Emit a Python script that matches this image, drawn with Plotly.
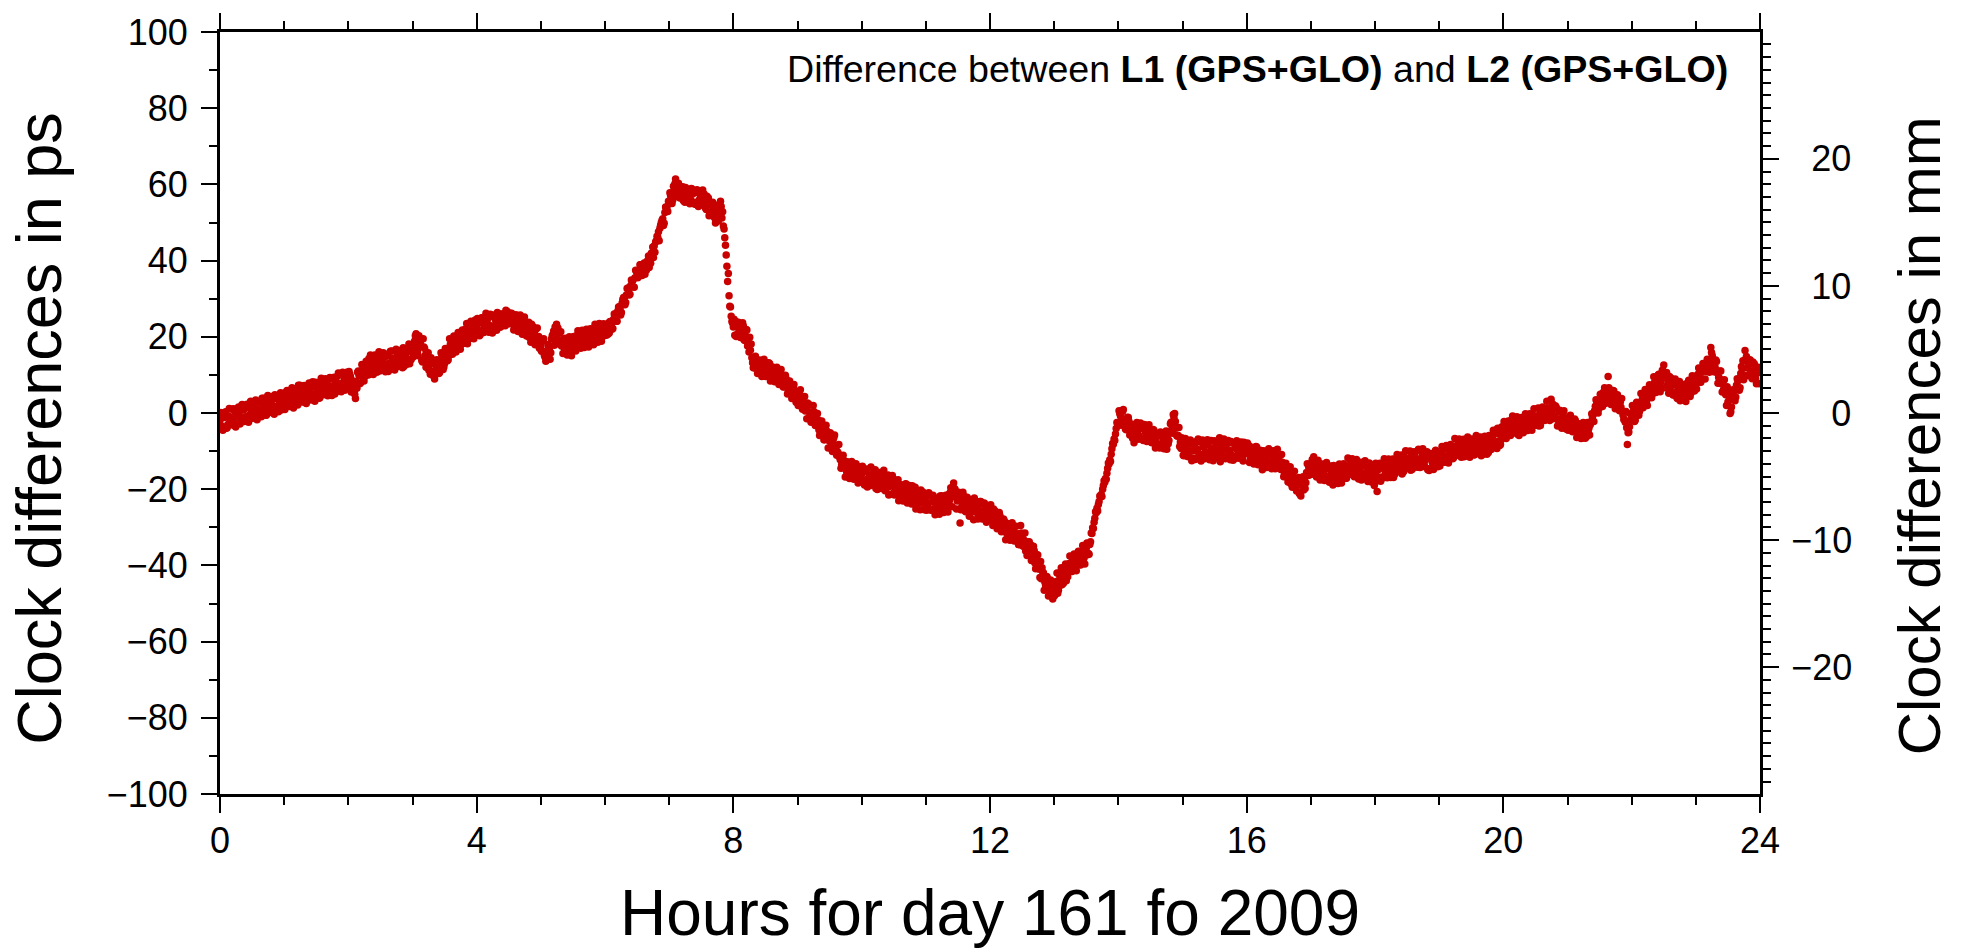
import plotly.graph_objects as go

# Clock difference L1 - L2 (ps). Each hour holds 90 forty-second epochs, stored as
# three interleaved rows of 30 ("a", "c", "b" in time order within each 2-minute slot).
ps_h00a = [-2.0, -3.5, -1.2, -4.0, -0.8, -2.6, -1.5, 0.2, -2.8, -0.5, -1.9, 0.8, -1.0, 1.5, -0.3,
           0.6, 2.2, -0.2, 1.0, 2.8, 0.4, 1.9, 3.3, 1.1, 2.5, 0.9, 3.8, 2.0, 4.2, 2.6]
ps_h00b = [-0.5, -4.2, 0.3, -3.0, -1.9, 1.0, -3.3, -0.9, 1.6, -2.4, 0.9, -1.6, 2.3, -0.7, 2.6,
           -1.2, 3.4, 0.2, -0.4, 3.9, 1.5, -0.6, 4.4, 2.2, 0.3, 4.8, 1.2, 3.6, 0.8, 5.1]
ps_h00c = [0.1, -4.5, 0.1, -3.9, 1.2, -3.1, 1.1, -3.7, 1.0, -2.9, 2.2, -2.2, 2.1, -2.4, 3.1,
           -1.4, 3.0, -1.8, 2.8, -1.0, 3.9, -0.5, 4.6, 0.1, 4.3, -0.3, 4.4, 0.3, 5.3, 1.0]
ps_h01a = [3.0, 4.6, 2.4, 5.1, 3.7, 6.0, 4.2, 2.9, 5.5, 4.8, 6.3, 3.9, 5.9, 7.2, 5.0,
           6.6, 4.4, 7.5, 6.1, 5.3, 8.0, 6.4, 7.1, 5.6, 8.3, 6.8, 7.7, 5.9, 8.6, 7.0]
ps_h01b = [5.4, 1.9, 4.1, 6.6, 2.6, 5.0, 7.3, 3.4, 6.7, 2.8, 5.2, 7.9, 4.5, 3.6, 8.1,
           6.0, 4.0, 8.9, 5.4, 7.2, 4.8, 9.0, 6.9, 5.0, 9.5, 7.4, 5.6, 9.8, 6.3, 8.9]
ps_h01c = [0.9, 5.9, 1.7, 6.0, 1.3, 6.0, 2.1, 7.3, 2.9, 7.2, 2.5, 7.3, 3.4, 8.2, 3.1,
           7.9, 3.9, 9.1, 4.8, 9.0, 4.5, 9.3, 4.6, 9.4, 5.6, 10.5, 6.2, 10.7, 6.0, 10.7]
ps_h02a = [8.0, 9.5, 7.2, 4.9, 6.5, 9.8, 10.6, 8.9, 11.4, 12.8, 10.9, 13.5, 11.8, 12.6, 14.2,
           11.5, 13.9, 12.4, 15.0, 13.1, 11.7, 14.4, 12.9, 15.3, 13.6, 14.8, 12.2, 15.7, 14.1, 16.5]
ps_h02b = [10.2, 6.4, 5.8, 8.2, 11.0, 7.9, 12.5, 9.6, 10.2, 14.3, 12.0, 10.1, 14.8, 13.0, 11.0,
           15.6, 12.8, 14.9, 10.9, 16.2, 13.9, 11.3, 16.0, 14.2, 12.5, 17.1, 13.4, 16.4, 12.9, 17.8]
ps_h02c = [10.9, 5.5, 8.4, 3.8, 10.7, 7.7, 12.7, 8.4, 13.6, 10.0, 15.2, 10.9, 15.2, 10.7, 16.1,
           11.5, 15.8, 10.8, 15.4, 11.5, 16.3, 11.7, 16.7, 12.2, 16.4, 11.9, 16.7, 12.8, 18.1, 14.0]
ps_h03a = [15.8, 18.9, 16.6, 20.3, 17.4, 19.5, 15.2, 14.0, 12.6, 13.8, 10.9, 12.2, 11.4, 13.5, 14.7,
           13.0, 16.2, 15.1, 17.3, 16.0, 18.4, 17.6, 19.8, 18.7, 20.6, 19.4, 21.5, 20.2, 22.4, 21.3]
ps_h03b = [17.5, 20.8, 15.0, 18.2, 13.4, 16.9, 13.1, 11.2, 14.5, 9.8, 13.6, 12.8, 10.6, 15.2, 12.1,
           16.4, 14.0, 18.0, 15.4, 19.1, 16.8, 20.6, 17.9, 19.0, 22.0, 18.2, 20.9, 23.1, 19.5, 22.8]
ps_h03c = [14.7, 20.3, 16.1, 19.7, 13.8, 17.3, 12.0, 15.8, 10.2, 13.8, 8.9, 14.0, 10.4, 15.8, 11.4,
           16.9, 13.7, 19.5, 15.6, 20.2, 16.0, 21.1, 16.7, 21.8, 18.3, 23.5, 19.4, 24.1, 19.6, 24.4]
ps_h04a = [22.0, 24.1, 21.6, 23.5, 22.8, 24.6, 23.0, 21.9, 25.2, 23.7, 24.8, 22.5, 25.5, 24.0, 26.3,
           25.0, 23.8, 24.4, 22.6, 23.9, 21.8, 23.2, 22.1, 20.7, 22.4, 21.0, 19.6, 21.3, 18.8, 20.1]
ps_h04b = [23.4, 20.6, 25.0, 22.3, 24.0, 21.2, 25.8, 22.4, 24.6, 26.4, 23.1, 26.0, 24.2, 27.0, 23.5,
           26.2, 24.9, 22.3, 25.6, 21.9, 24.5, 20.8, 23.6, 22.9, 19.8, 23.3, 20.5, 22.0, 17.9, 19.2]
ps_h04c = [24.8, 20.3, 25.0, 21.1, 26.2, 21.8, 25.9, 21.0, 25.7, 21.7, 26.0, 22.7, 26.0, 22.9, 26.6,
           23.4, 26.2, 21.8, 25.8, 21.4, 25.7, 20.7, 25.2, 20.2, 23.8, 18.6, 22.7, 17.9, 22.3, 17.0]
ps_h05a = [17.5, 16.2, 14.6, 15.3, 16.8, 19.4, 21.5, 20.2, 22.3, 19.0, 18.2, 17.0, 16.0, 18.4, 17.3,
           19.1, 17.8, 19.9, 18.6, 20.4, 19.2, 21.0, 19.6, 18.5, 20.8, 19.7, 21.6, 20.3, 22.2, 21.0]
ps_h05b = [18.8, 15.1, 13.9, 17.2, 15.8, 20.6, 22.6, 18.8, 20.9, 17.6, 19.5, 15.7, 17.2, 15.9, 18.9,
           16.5, 20.3, 18.1, 17.0, 21.2, 18.0, 19.9, 22.0, 20.5, 17.9, 21.8, 18.6, 22.6, 19.9, 20.4]
ps_h05c = [16.2, 19.5, 13.6, 18.0, 14.1, 20.3, 17.8, 23.3, 18.2, 21.3, 15.6, 19.6, 15.2, 20.0, 15.0,
           20.1, 16.3, 21.6, 17.4, 21.7, 17.2, 22.0, 17.3, 22.1, 18.3, 23.3, 19.0, 23.5, 18.8, 23.4]
ps_h06a = [21.5, 22.8, 21.0, 23.4, 24.6, 25.2, 26.8, 27.5, 28.9, 30.2, 31.0, 32.5, 33.4, 34.8, 35.5,
           36.9, 37.4, 36.5, 38.6, 37.8, 39.5, 40.6, 42.0, 43.8, 45.2, 47.6, 49.3, 51.0, 52.6, 54.1]
ps_h06b = [20.4, 23.6, 22.5, 22.2, 26.0, 24.1, 27.9, 26.4, 30.3, 29.0, 32.8, 31.2, 34.6, 33.0, 37.2,
           35.8, 38.9, 37.6, 36.4, 39.8, 38.2, 41.9, 40.8, 44.9, 46.1, 48.5, 50.6, 49.8, 53.8, 55.6]
ps_h06c = [23.0, 20.7, 24.0, 22.0, 26.0, 24.1, 27.8, 25.7, 29.8, 28.4, 32.7, 31.0, 34.9, 33.1, 37.5,
           35.5, 38.9, 36.1, 39.4, 37.5, 41.2, 39.3, 43.6, 42.2, 46.4, 45.2, 50.0, 49.2, 54.1, 52.9]
ps_h07a = [55.3, 57.8, 59.5, 61.4, 58.2, 56.4, 58.9, 57.1, 55.6, 58.3, 56.0, 57.5, 54.8, 58.6, 55.9,
           57.2, 56.1, 53.8, 55.4, 52.3, 54.6, 51.5, 53.2, 50.4, 55.6, 52.8, 46.0, 38.5, 30.8, 25.4]
ps_h07b = [57.0, 55.9, 60.2, 57.4, 59.8, 57.9, 55.7, 59.2, 57.0, 54.9, 58.8, 55.3, 57.9, 54.2, 56.8,
           58.5, 54.6, 56.9, 51.8, 55.0, 53.4, 49.9, 52.0, 54.5, 51.2, 48.3, 41.5, 36.6, 27.8, 23.6]
ps_h07c = [57.8, 55.0, 59.5, 56.8, 60.3, 56.6, 59.4, 55.3, 58.6, 55.2, 58.9, 55.2, 58.1, 54.5, 58.3,
           54.6, 57.5, 53.4, 56.4, 52.5, 55.3, 51.2, 54.5, 51.0, 54.2, 49.1, 44.0, 34.5, 28.0, 24.0]
ps_h08a = [22.6, 24.0, 20.8, 23.3, 21.5, 19.2, 21.9, 18.4, 16.5, 13.2, 11.8, 13.0, 11.4, 12.6, 10.9,
           9.6, 11.5, 12.9, 10.2, 8.7, 10.6, 9.1, 7.8, 9.5, 7.2, 8.4, 6.1, 5.3, 6.6, 4.0]
ps_h08b = [20.4, 23.8, 22.0, 19.8, 22.9, 20.3, 17.6, 19.9, 14.5, 12.4, 14.0, 10.6, 12.9, 11.0, 12.2,
           10.3, 13.1, 11.0, 9.4, 11.8, 8.5, 10.1, 8.8, 6.9, 9.0, 5.6, 7.4, 4.9, 5.8, 3.1]
ps_h08c = [24.6, 20.1, 23.8, 19.8, 23.7, 19.0, 21.8, 16.0, 18.1, 11.9, 14.9, 10.4, 13.9, 9.6, 14.1,
           9.7, 13.2, 8.4, 12.1, 8.2, 12.0, 7.5, 11.4, 6.8, 9.9, 5.0, 8.4, 3.8, 7.5, 2.8]
ps_h09a = [4.6, 3.2, 4.4, 2.0, 0.8, 1.9, -0.6, -1.5, -0.2, -3.0, -4.4, -3.2, -5.6, -6.8, -5.0,
           -7.4, -8.2, -6.4, -9.1, -10.5, -12.3, -14.0, -13.1, -15.5, -14.3, -16.2, -15.0, -13.8, -16.6, -15.4]
ps_h09b = [5.6, 2.4, 3.1, 0.5, 2.6, 0.1, -2.1, 0.4, -2.4, -1.8, -5.1, -4.1, -7.0, -4.7, -6.2,
           -9.0, -7.0, -8.6, -10.2, -11.6, -13.5, -12.4, -14.8, -16.8, -13.2, -17.0, -14.1, -16.0, -14.6, -17.4]
ps_h09c = [2.0, 6.1, 1.0, 4.3, -1.5, 2.3, -2.4, 2.0, -3.3, -0.1, -5.9, -2.1, -7.0, -3.2, -9.2,
           -5.2, -10.1, -5.8, -11.1, -8.3, -14.5, -11.1, -16.8, -12.8, -17.2, -12.7, -17.4, -13.3, -18.4, -14.1]
ps_h10a = [-16.0, -18.2, -15.3, -17.1, -19.0, -16.4, -18.6, -17.3, -15.9, -18.9, -17.8, -20.4, -16.9, -19.3, -18.1,
           -21.0, -19.6, -17.5, -20.6, -22.1, -19.8, -21.4, -20.0, -22.6, -21.2, -19.5, -22.9, -21.8, -23.5, -20.9]
ps_h10b = [-17.5, -15.0, -19.4, -16.3, -17.9, -15.4, -19.8, -16.8, -18.4, -16.2, -19.5, -18.0, -21.5, -18.6, -17.2,
           -20.1, -18.3, -21.8, -19.0, -20.9, -18.6, -23.0, -20.7, -19.1, -22.3, -24.0, -21.0, -20.2, -22.4, -24.4]
ps_h10c = [-14.0, -18.9, -14.7, -18.9, -14.2, -18.8, -14.9, -20.1, -15.6, -19.8, -15.0, -20.0, -16.3, -21.3, -16.4,
           -21.5, -17.7, -23.0, -18.8, -23.1, -18.7, -23.6, -19.0, -23.9, -20.2, -25.2, -20.9, -25.4, -20.7, -25.4]
ps_h11a = [-22.4, -24.0, -21.6, -23.3, -25.1, -22.7, -24.6, -23.5, -25.8, -22.9, -24.2, -23.0, -20.5, -18.4, -21.7,
           -22.4, -28.9, -23.6, -21.9, -24.5, -22.8, -25.3, -23.7, -26.0, -24.4, -25.6, -23.9, -26.5, -25.0, -27.2]
ps_h11b = [-23.8, -21.3, -25.3, -22.2, -23.9, -26.0, -21.8, -25.0, -22.6, -24.6, -21.4, -19.6, -22.0, -20.0, -23.1,
           -21.0, -24.8, -22.1, -25.9, -23.3, -26.4, -24.0, -22.3, -25.2, -27.0, -23.2, -25.9, -24.1, -27.4, -26.1]
ps_h11c = [-25.5, -20.9, -25.5, -21.6, -26.7, -22.4, -26.6, -21.7, -26.1, -21.6, -26.0, -20.9, -24.6, -19.8, -25.2,
           -20.8, -25.4, -20.8, -25.7, -22.1, -27.1, -22.8, -28.0, -23.6, -27.8, -23.2, -27.8, -23.6, -28.7, -24.3]
ps_h12a = [-26.5, -28.0, -25.8, -27.9, -29.6, -28.2, -30.9, -29.4, -31.8, -30.2, -32.5, -31.0, -33.4, -31.7, -34.0,
           -32.6, -35.1, -33.8, -36.0, -34.6, -37.5, -39.4, -37.2, -41.0, -43.5, -42.0, -45.3, -44.1, -47.6, -46.0]
ps_h12b = [-27.4, -25.2, -26.9, -29.3, -27.0, -30.0, -28.3, -31.1, -29.9, -32.4, -29.6, -33.0, -32.0, -34.6, -31.5,
           -33.2, -36.2, -34.2, -35.0, -37.8, -36.1, -38.6, -40.2, -39.0, -41.8, -44.4, -43.0, -46.0, -45.2, -47.2]
ps_h12c = [-24.1, -29.5, -25.7, -30.4, -26.1, -31.2, -27.8, -33.3, -29.0, -33.4, -28.8, -33.6, -29.7, -34.5, -29.5,
           -34.9, -31.5, -37.4, -33.8, -38.7, -35.0, -40.9, -37.3, -43.2, -40.6, -46.5, -42.9, -48.0, -43.8, -48.8]
ps_h13a = [-48.0, -44.2, -46.5, -41.8, -43.9, -40.6, -42.8, -39.5, -41.4, -38.7, -40.2, -37.6, -39.3, -36.4, -38.0,
           -35.5, -36.9, -33.8, -30.1, -27.6, -25.0, -23.2, -21.4, -19.0, -17.2, -14.5, -12.3, -9.4, -6.8, -4.1]
ps_h13b = [-45.6, -47.3, -43.0, -45.1, -42.2, -44.0, -40.0, -41.5, -38.6, -40.7, -38.2, -39.8, -36.6, -38.6, -35.2,
           -37.2, -34.5, -31.6, -28.7, -26.2, -24.0, -22.0, -20.0, -18.2, -15.8, -13.4, -10.8, -8.2, -5.5, -2.8]
ps_h13c = [-47.8, -42.0, -45.5, -40.6, -44.7, -39.6, -43.0, -37.5, -41.6, -37.0, -41.4, -36.3, -39.9, -34.8, -39.6,
           -34.1, -37.1, -31.5, -30.3, -25.9, -25.7, -21.8, -21.9, -17.8, -17.4, -13.1, -12.7, -8.0, -7.2, -2.5]
ps_h14a = [-2.5, -0.8, 0.4, -1.9, -3.6, -2.2, -4.8, -5.9, -3.4, -5.2, -6.5, -4.1, -3.0, -5.7, -4.6,
           -6.8, -5.3, -7.4, -6.1, -8.2, -5.7, -7.0, -8.9, -6.3, -4.8, -3.2, -1.2, -4.0, -5.9, -7.6]
ps_h14b = [-0.1, -1.6, -3.0, -4.4, -1.2, -3.9, -6.6, -4.4, -2.5, -6.0, -3.7, -7.2, -5.0, -3.4, -6.2,
           -7.8, -4.6, -6.6, -8.8, -5.0, -7.9, -6.0, -9.5, -7.2, -2.4, -0.4, -2.2, -6.1, -8.8, -6.5]
ps_h14c = [0.6, -3.2, 0.9, -4.2, -1.1, -5.8, -3.0, -7.8, -3.4, -6.9, -2.6, -6.9, -3.1, -7.5, -3.1,
           -7.7, -4.3, -9.2, -5.4, -9.2, -5.2, -9.4, -4.7, -8.1, -2.8, -5.3, -0.1, -6.0, -3.8, -9.3]
ps_h15a = [-8.8, -10.6, -9.2, -11.5, -8.1, -10.0, -12.2, -9.5, -7.6, -10.9, -9.0, -11.8, -8.4, -10.3, -9.7,
           -7.3, -11.2, -8.9, -10.5, -9.1, -12.0, -8.0, -9.8, -11.0, -7.9, -9.4, -10.8, -8.6, -11.4, -9.9]
ps_h15b = [-11.2, -8.0, -9.8, -7.1, -11.9, -9.0, -7.4, -10.7, -12.6, -8.3, -10.2, -7.0, -12.3, -9.4, -11.0,
           -8.5, -10.1, -12.8, -7.8, -11.6, -9.6, -10.9, -7.5, -12.4, -9.1, -8.2, -11.7, -9.9, -7.7, -10.6]
ps_h15c = [-11.1, -6.7, -11.4, -7.5, -12.5, -8.0, -11.9, -6.8, -11.3, -7.1, -12.0, -7.5, -11.7, -7.2, -12.5,
           -7.7, -11.7, -6.5, -10.9, -6.8, -11.6, -7.2, -12.3, -7.9, -12.0, -7.3, -11.9, -7.6, -12.6, -8.2]
ps_h16a = [-10.2, -8.5, -11.3, -9.6, -12.0, -10.8, -13.1, -11.7, -9.9, -12.5, -14.0, -11.1, -12.8, -10.5, -13.6,
           -12.1, -14.8, -13.4, -15.6, -17.0, -15.9, -18.2, -17.1, -19.6, -18.5, -20.8, -19.0, -17.4, -15.6, -14.2]
ps_h16b = [-9.0, -11.8, -10.4, -12.7, -8.9, -11.6, -10.0, -13.9, -12.4, -10.7, -12.9, -14.6, -11.7, -13.8, -11.4,
           -14.2, -12.9, -16.0, -14.1, -16.4, -18.6, -16.6, -19.0, -18.0, -21.2, -17.6, -20.2, -18.3, -16.4, -13.4]
ps_h16c = [-7.9, -13.0, -9.0, -13.4, -8.8, -13.6, -9.8, -14.9, -10.3, -14.3, -9.4, -14.0, -9.9, -14.6, -9.5,
           -14.5, -10.9, -16.7, -13.2, -18.1, -14.1, -19.5, -15.3, -20.5, -16.9, -21.8, -16.7, -19.8, -13.3, -16.3]
ps_h17a = [-13.5, -15.2, -12.6, -14.8, -16.1, -13.9, -15.7, -17.4, -14.6, -16.9, -15.3, -17.8, -16.2, -14.0, -17.0,
           -15.5, -13.8, -16.3, -14.4, -12.9, -15.1, -13.6, -16.0, -14.7, -17.2, -15.8, -14.1, -16.5, -15.0, -17.5]
ps_h17b = [-12.2, -14.3, -16.8, -13.1, -15.4, -17.0, -14.3, -16.6, -18.2, -15.9, -13.8, -16.6, -18.5, -15.2, -16.4,
           -14.2, -17.1, -15.0, -12.7, -14.5, -16.6, -12.9, -14.9, -17.6, -13.8, -16.3, -18.0, -14.8, -16.0, -19.0]
ps_h17c = [-16.1, -11.5, -16.2, -12.4, -17.6, -13.4, -17.7, -13.0, -17.8, -13.9, -18.9, -14.3, -18.3, -13.4, -18.4,
           -13.3, -17.1, -11.8, -16.1, -12.0, -16.7, -12.2, -17.3, -12.9, -17.1, -12.5, -17.2, -13.1, -18.1, -13.7]
ps_h18a = [-15.4, -20.6, -14.2, -16.8, -13.6, -15.9, -14.5, -12.8, -16.1, -13.9, -15.2, -12.4, -14.7, -13.1, -11.6,
           -14.0, -12.2, -10.9, -13.5, -11.8, -12.9, -14.3, -11.3, -13.0, -12.1, -14.6, -11.5, -13.3, -12.6, -10.8]
ps_h18b = [-16.5, -14.8, -17.9, -13.2, -15.1, -17.0, -13.6, -14.9, -16.9, -12.3, -14.6, -13.4, -16.0, -11.9, -13.6,
           -12.6, -15.0, -11.8, -10.4, -14.2, -12.4, -10.1, -13.8, -12.0, -14.9, -10.9, -12.8, -14.0, -11.4, -12.2]
ps_h18c = [-13.2, -17.8, -13.2, -17.1, -12.0, -16.3, -12.1, -16.9, -12.1, -16.0, -10.9, -15.3, -11.0, -15.4, -9.9,
           -14.4, -10.0, -14.8, -10.2, -14.2, -9.5, -14.2, -9.4, -14.1, -10.2, -15.1, -10.6, -14.8, -9.8, -14.1]
ps_h19a = [-12.0, -10.4, -11.6, -9.3, -12.4, -10.1, -8.7, -11.0, -9.6, -7.9, -10.2, -8.4, -9.9, -11.3, -8.1,
           -9.5, -7.2, -10.0, -8.8, -6.9, -9.2, -7.7, -8.5, -10.4, -7.4, -6.2, -8.0, -9.3, -5.6, -7.0]
ps_h19b = [-13.1, -11.0, -9.4, -12.9, -10.8, -8.9, -11.8, -9.9, -8.3, -10.8, -9.0, -11.5, -8.8, -7.4, -10.6,
           -8.9, -10.9, -7.8, -9.6, -11.2, -8.0, -6.8, -9.9, -7.9, -6.9, -9.0, -7.5, -5.1, -8.3, -6.0]
ps_h19c = [-13.9, -8.8, -12.9, -8.5, -13.1, -8.3, -12.0, -6.7, -11.1, -6.8, -11.6, -6.9, -10.9, -6.3, -11.6,
           -6.8, -11.0, -5.9, -10.4, -6.3, -10.9, -6.1, -10.8, -5.9, -9.6, -4.5, -8.7, -4.0, -8.5, -3.6]
ps_h20a = [-4.8, -3.2, -5.5, -2.9, -4.1, -2.0, -3.6, -5.0, -1.8, -3.0, -2.4, -4.2, -1.5, -2.7, -0.6,
           -3.1, -1.2, -0.2, -2.0, 0.5, -1.0, 1.3, 0.2, 2.4, -0.8, 1.0, -1.6, -2.8, -0.5, -2.2]
ps_h20b = [-3.6, -5.9, -4.3, -1.9, -4.8, -3.0, -5.6, -2.5, -4.2, -1.2, -3.8, -2.1, -3.9, -0.8, -2.4,
           -1.8, -3.4, 0.8, -1.3, -0.4, 1.2, -2.0, 0.6, -0.9, 1.6, -1.9, 0.2, -3.3, -1.4, -3.6]
ps_h20c = [-2.2, -6.7, -2.1, -5.9, -0.8, -5.2, -1.0, -5.9, -1.2, -5.2, -0.2, -4.6, -0.2, -4.5, 1.1,
           -3.2, 1.3, -3.3, 1.6, -2.0, 3.1, -1.2, 3.6, -1.5, 1.9, -3.4, 0.7, -4.0, 0.6, -4.2]
ps_h21a = [-1.8, -3.5, -2.6, -4.4, -3.0, -5.1, -3.8, -5.9, -4.5, -6.2, -4.0, -2.2, -0.4, 1.8, 3.0,
           2.2, 4.1, 3.3, 5.2, 9.6, 4.4, 3.1, 5.0, 2.6, 3.8, 1.5, -0.6, -2.4, -8.3, -3.6]
ps_h21b = [-2.9, -1.6, -4.1, -2.0, -5.5, -3.6, -6.6, -4.8, -3.5, -5.0, -3.1, -1.0, 0.6, 2.9, 1.1,
           3.6, 5.4, 2.5, 4.4, 6.2, 3.5, 5.8, 4.0, 1.6, 2.8, 0.4, -1.8, -3.9, -5.0, -1.9]
ps_h21c = [-4.5, -0.6, -4.9, -1.6, -6.4, -2.8, -6.7, -2.5, -6.6, -2.5, -5.8, -0.2, -2.2, 3.5, 0.0,
           4.9, 1.7, 6.6, 2.9, 6.6, 2.2, 5.9, 1.1, 4.8, 0.6, 3.8, -1.7, 0.4, -5.2, -0.2]
ps_h22a = [-1.2, 0.9, -0.8, 2.0, 1.1, 3.6, 4.8, 3.2, 5.9, 6.8, 5.1, 7.5, 8.9, 7.0, 9.6,
           12.6, 10.0, 8.2, 6.6, 8.8, 7.4, 5.5, 6.9, 4.6, 6.2, 5.0, 7.8, 6.4, 8.5, 7.2]
ps_h22b = [0.1, -1.9, 1.4, 0.4, 2.7, 2.2, 5.5, 4.1, 7.0, 5.6, 8.0, 6.4, 10.2, 8.2, 11.0,
           9.3, 7.2, 9.6, 5.6, 7.8, 4.4, 6.6, 3.2, 5.5, 4.0, 6.8, 8.6, 5.2, 9.5, 6.6]
ps_h22c = [2.0, -2.2, 2.8, -0.6, 5.1, 1.4, 6.2, 2.0, 7.4, 4.0, 9.5, 5.4, 9.9, 5.6, 11.2,
           6.6, 10.6, 5.2, 9.2, 4.7, 8.9, 3.8, 8.3, 3.4, 7.5, 3.0, 8.0, 4.3, 9.8, 5.8]
ps_h23a = [8.6, 10.2, 9.0, 11.4, 12.8, 10.9, 13.6, 17.2, 14.1, 12.0, 10.5, 9.1, 7.7, 6.2, 4.8,
           2.9, -0.1, 3.6, 5.9, 7.3, 8.8, 10.4, 13.7, 16.4, 11.8, 12.9, 10.1, 11.2, 8.9, 10.5]
ps_h23b = [9.8, 8.0, 10.6, 12.3, 11.2, 14.0, 12.4, 15.1, 12.9, 13.5, 9.4, 11.0, 8.3, 5.4, 6.9,
           3.8, 1.6, 5.0, 4.2, 8.4, 6.6, 11.6, 9.9, 14.8, 12.6, 10.8, 13.4, 9.6, 11.9, 7.7]
ps_h23c = [6.3, 11.8, 8.1, 13.0, 8.9, 14.1, 10.7, 15.9, 10.8, 13.9, 7.8, 11.0, 5.5, 8.7, 2.0,
           5.4, 0.3, 6.1, 3.2, 9.0, 6.0, 12.2, 8.7, 14.1, 9.8, 14.0, 9.0, 12.9, 7.7, 12.0]

rows_a = [ps_h00a, ps_h01a, ps_h02a, ps_h03a, ps_h04a, ps_h05a, ps_h06a, ps_h07a,
          ps_h08a, ps_h09a, ps_h10a, ps_h11a, ps_h12a, ps_h13a, ps_h14a, ps_h15a,
          ps_h16a, ps_h17a, ps_h18a, ps_h19a, ps_h20a, ps_h21a, ps_h22a, ps_h23a]
rows_c = [ps_h00c, ps_h01c, ps_h02c, ps_h03c, ps_h04c, ps_h05c, ps_h06c, ps_h07c,
          ps_h08c, ps_h09c, ps_h10c, ps_h11c, ps_h12c, ps_h13c, ps_h14c, ps_h15c,
          ps_h16c, ps_h17c, ps_h18c, ps_h19c, ps_h20c, ps_h21c, ps_h22c, ps_h23c]
rows_b = [ps_h00b, ps_h01b, ps_h02b, ps_h03b, ps_h04b, ps_h05b, ps_h06b, ps_h07b,
          ps_h08b, ps_h09b, ps_h10b, ps_h11b, ps_h12b, ps_h13b, ps_h14b, ps_h15b,
          ps_h16b, ps_h17b, ps_h18b, ps_h19b, ps_h20b, ps_h21b, ps_h22b, ps_h23b]

# Axis setup values
HOUR_TICKS = [0, 4, 8, 12, 16, 20, 24]
PS_TICKS = [-100, -80, -60, -40, -20, 0, 20, 40, 60, 80, 100]
MM_TICKS = [-20, -10, 0, 10, 20]
PS_RANGE = [-100, 100]
MM_PER_PS = 0.299792458  # light travel distance in one picosecond

hours, ps = [], []
for hour in range(24):
    for offset, rows in ((0.0, rows_a), (1 / 3, rows_c), (2 / 3, rows_b)):
        row = rows[hour]
        for k, value in enumerate(row):
            hours.append(hour + (k + offset) / len(row))
            ps.append(value)
mm = [v * MM_PER_PS for v in ps]


# Right-hand labels are right-aligned: pad with figure spaces to equal width
def mm_label(v):
    s = str(abs(v))
    s = ("\u2212" + s) if v < 0 else s
    return "\u2007" * (3 - len(s)) + s


FONT = "Liberation Sans, Arial, Helvetica, sans-serif"
RED = "#c80000"

fig = go.Figure()
fig.add_trace(go.Scatter(
    x=hours, y=ps, mode="markers",
    marker=dict(color=RED, size=7.5, line=dict(width=0)),
    showlegend=False, hoverinfo="skip",
))
# Same samples expressed in mm, carried by the right-hand axis (not painted)
fig.add_trace(go.Scatter(
    x=hours, y=mm, yaxis="y2", mode="markers",
    marker=dict(color=RED, size=7.5, opacity=0),
    showlegend=False, hoverinfo="skip",
))

axis_common = dict(
    showgrid=False, zeroline=False, showline=True, linecolor="black", linewidth=3,
    ticks="outside", ticklen=16, tickwidth=2, tickcolor="black",
    tickfont=dict(family=FONT, size=36, color="black"),
)


def minor(step):
    return dict(tickmode="linear", tick0=0, dtick=step, ticklen=8, tickwidth=2,
                tickcolor="black", ticks="outside")


fig.update_layout(
    width=1963, height=952,
    paper_bgcolor="white", plot_bgcolor="white",
    margin=dict(l=220, r=203, t=24, b=158),
    xaxis=dict(
        range=[0, 24], tickmode="array", tickvals=HOUR_TICKS, mirror="ticks",
        minor=minor(1),
        title=dict(text="Hours for day 161 fo 2009",
                   font=dict(family=FONT, size=64, color="black"), standoff=30),
        ticklabelstandoff=-3,
        **axis_common,
    ),
    yaxis=dict(
        range=PS_RANGE, tickmode="array", tickvals=PS_TICKS,
        minor=minor(10),
        ticklabelstandoff=6,
        **axis_common,
    ),
    yaxis2=dict(
        overlaying="y", side="right", anchor="x",
        range=[PS_RANGE[0] * MM_PER_PS, PS_RANGE[1] * MM_PER_PS],
        tickmode="array", tickvals=MM_TICKS, ticktext=[mm_label(v) for v in MM_TICKS],
        minor=minor(1),
        ticklabelstandoff=5,
        **axis_common,
    ),
    annotations=[
        dict(xref="paper", yref="paper", x=0.9805, y=0.951, xanchor="right", yanchor="middle",
             text="Difference between <b>L1 (GPS+GLO)</b> and <b>L2 (GPS+GLO)</b>",
             showarrow=False, font=dict(family=FONT, size=37.6, color="black")),
        # vertical axis titles
        dict(xref="paper", yref="paper", x=-0.1172, y=0.4799, xanchor="center", yanchor="middle",
             text="Clock differences in ps", textangle=-90, showarrow=False,
             font=dict(family=FONT, size=63, color="black")),
        dict(xref="paper", yref="paper", x=1.1036, y=0.4701, xanchor="center", yanchor="middle",
             text="Clock differences in mm", textangle=-90, showarrow=False,
             font=dict(family=FONT, size=60, color="black")),
    ],
)

fig.write_html("out.html")
